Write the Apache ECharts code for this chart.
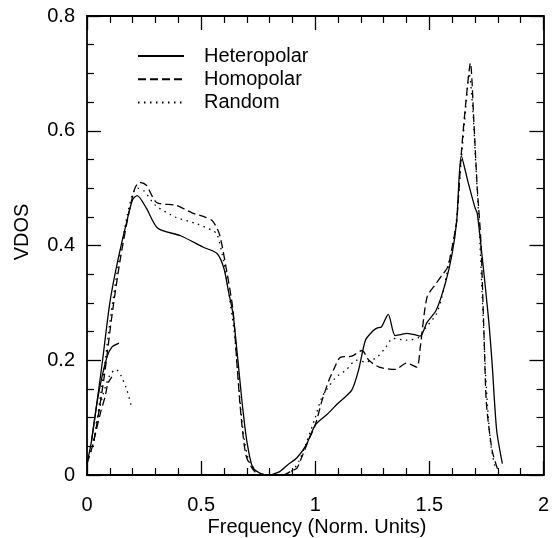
<!DOCTYPE html>
<html>
<head>
<meta charset="utf-8">
<script src="https://cdn.jsdelivr.net/npm/echarts@6/dist/echarts.min.js"></script>
<style>html,body{margin:0;padding:0;background:#fff;}#c{width:552px;height:538px;}</style>
</head>
<body>
<div id="c"></div>
<script>
// ---- data ----
const seriesNames = ['Heteropolar', 'Homopolar', 'Random'];
const xTicks = ['0', '0.5', '1', '1.5', '2'];
const yTicks = ['0', '0.2', '0.4', '0.6', '0.8'];

const heteroX = [0,0.02,0.065,0.10,0.135,0.175,0.20,0.22,0.26,0.31,0.41,0.51,0.57,0.60,0.62,0.64,0.66,0.68,0.70,0.725,0.755,0.79,0.84,0.88,0.92,0.96,1.0,1.05,1.10,1.16,1.19,1.22,1.25,1.27,1.29,1.32,1.35,1.38,1.40,1.43,1.46,1.49,1.53,1.57,1.60,1.62,1.64,1.67,1.70,1.71,1.73,1.76,1.775,1.795,1.82];
const heteroY = [0.02,0.06,0.19,0.30,0.374,0.443,0.48,0.487,0.465,0.43,0.417,0.397,0.386,0.36,0.32,0.28,0.205,0.125,0.06,0.014,0.004,0.0,0.005,0.018,0.03,0.052,0.087,0.105,0.125,0.148,0.183,0.235,0.25,0.256,0.258,0.28,0.243,0.245,0.247,0.245,0.242,0.266,0.287,0.334,0.386,0.443,0.556,0.51,0.466,0.456,0.386,0.27,0.195,0.078,0.02];

const homoX = [0,0.03,0.075,0.11,0.145,0.18,0.21,0.23,0.26,0.305,0.39,0.46,0.52,0.55,0.58,0.61,0.64,0.655,0.67,0.685,0.70,0.74,0.80,0.86,0.90,0.92,0.945,0.97,1.0,1.03,1.06,1.08,1.11,1.16,1.205,1.235,1.28,1.35,1.40,1.445,1.46,1.49,1.53,1.555,1.58,1.60,1.62,1.64,1.66,1.68,1.695,1.71,1.725,1.74,1.75,1.775,1.80];
const homoY = [0.02,0.06,0.17,0.28,0.374,0.45,0.50,0.51,0.505,0.475,0.47,0.457,0.449,0.443,0.42,0.36,0.287,0.205,0.125,0.065,0.03,0.004,0.0,0.0,0.008,0.012,0.035,0.06,0.087,0.13,0.165,0.183,0.205,0.207,0.217,0.2,0.188,0.184,0.195,0.188,0.222,0.31,0.334,0.348,0.362,0.397,0.443,0.56,0.65,0.718,0.617,0.50,0.414,0.24,0.125,0.043,0.009];

const randomX = [0,0.03,0.07,0.105,0.14,0.175,0.20,0.22,0.25,0.30,0.39,0.48,0.55,0.57,0.60,0.62,0.645,0.66,0.675,0.69,0.71,0.75,0.80,0.86,0.90,0.93,0.96,1.0,1.03,1.09,1.135,1.18,1.22,1.27,1.31,1.34,1.40,1.455,1.485,1.53,1.555,1.585,1.615,1.64,1.66,1.675,1.69,1.705,1.72,1.735,1.75,1.77,1.79];
const randomY = [0.02,0.06,0.17,0.28,0.374,0.45,0.49,0.50,0.495,0.47,0.449,0.438,0.426,0.42,0.37,0.32,0.25,0.18,0.11,0.06,0.025,0.005,0.0,0.0,0.008,0.025,0.055,0.1,0.136,0.17,0.183,0.2,0.197,0.205,0.223,0.238,0.235,0.24,0.257,0.28,0.31,0.368,0.43,0.55,0.64,0.70,0.64,0.53,0.42,0.28,0.15,0.05,0.01];

const heteroBranchX = [0.02,0.05,0.087,0.109,0.14];
const heteroBranchY = [0.06,0.14,0.205,0.223,0.23];
const homoBranchX = [0.03,0.06,0.079,0.092,0.109];
const homoBranchY = [0.06,0.11,0.136,0.16,0.171];
const randomBranchX = [0.04,0.07,0.10,0.127,0.148,0.175,0.196];
const randomBranchY = [0.09,0.14,0.174,0.184,0.174,0.148,0.117];

// ---- chart ----
const zip = (xs, ys) => xs.map((x, i) => [x, ys[i]]);
const FONT = 'Liberation Sans, Arial, Helvetica, sans-serif';
const FS = 20;
const styles = {
  Heteropolar: { type: 'solid' },
  Homopolar: { type: [8, 4] },
  Random: { type: [1.5, 4.5] }
};
function mk(name, xs, ys) {
  return {
    name: name, type: 'line', data: zip(xs, ys), symbol: 'none', showSymbol: false, smooth: 0.25,
    lineStyle: Object.assign({ color: '#000', width: 1.3 }, styles[name]),
    itemStyle: { color: '#000' }, animation: false
  };
}
const axisLine = { show: true, onZero: false, lineStyle: { color: '#000', width: 1.8 } };
const axisTick = { show: true, inside: true, length: 14, lineStyle: { color: '#000', width: 1.3 } };
const minor = (n) => ({ show: true, splitNumber: n, length: 7, lineStyle: { color: '#000', width: 1.2 } });
const chart = echarts.init(document.getElementById('c'), null, { renderer: 'canvas' });
chart.setOption({
  animation: false,
  backgroundColor: '#fff',
  grid: { left: 87, right: 7, top: 16, bottom: 63, containLabel: false },
  legend: {
    data: seriesNames, orient: 'vertical', left: 132, top: 41,
    itemWidth: 46, itemHeight: 14, itemGap: 3.3,
    itemStyle: { opacity: 0 },
    textStyle: { fontFamily: FONT, fontSize: FS, color: '#000', padding: [0, 0, 0, 15] },
    inactiveColor: '#000'
  },
  xAxis: [
    { type: 'value', min: 0, max: 2, interval: 0.5, position: 'bottom',
      axisLine: axisLine, axisTick: axisTick, minorTick: minor(5), splitLine: { show: false },
      axisLabel: { margin: 20, fontFamily: FONT, fontSize: FS, color: '#000',
        formatter: (v) => xTicks[Math.round(v / 0.5)] } },
    { type: 'value', min: 0, max: 2, interval: 0.5, position: 'top',
      axisLine: axisLine, axisTick: axisTick, minorTick: minor(5), splitLine: { show: false },
      axisLabel: { show: false } }
  ],
  yAxis: [
    { type: 'value', min: 0, max: 0.8, interval: 0.2, position: 'left',
      axisLine: axisLine, axisTick: axisTick, minorTick: minor(4), splitLine: { show: false },
      axisLabel: { margin: 12, fontFamily: FONT, fontSize: FS, color: '#000',
        formatter: (v) => yTicks[Math.round(v / 0.2)] } },
    { type: 'value', min: 0, max: 0.8, interval: 0.2, position: 'right',
      axisLine: axisLine, axisTick: axisTick, minorTick: minor(4), splitLine: { show: false },
      axisLabel: { show: false } }
  ],
  graphic: [
    { type: 'text', x: 317, y: 527, style: { text: 'Frequency (Norm. Units)', font: FS + 'px ' + FONT, fill: '#000', textAlign: 'center', textVerticalAlign: 'middle' } },
    { type: 'text', rotation: Math.PI / 2, x: 22, y: 232, style: { text: 'VDOS', font: FS + 'px ' + FONT, fill: '#000', textAlign: 'center', textVerticalAlign: 'middle' } }
  ],
  series: [
    mk('Heteropolar', heteroX, heteroY),
    mk('Homopolar', homoX, homoY),
    mk('Random', randomX, randomY),
    mk('Heteropolar', heteroBranchX, heteroBranchY),
    mk('Homopolar', homoBranchX, homoBranchY),
    mk('Random', randomBranchX, randomBranchY)
  ]
});
</script>
</body>
</html>
